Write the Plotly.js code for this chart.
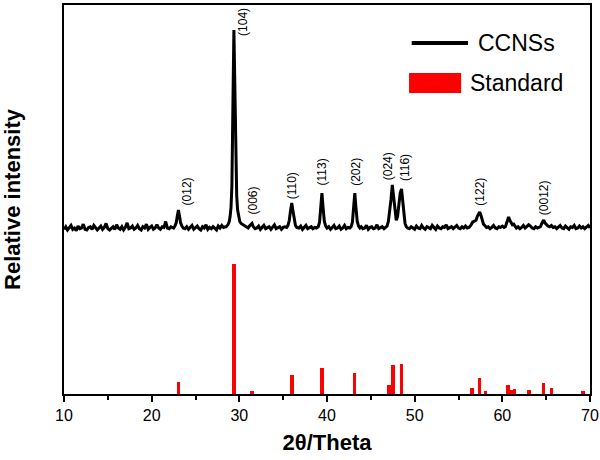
<!DOCTYPE html>
<html>
<head>
<meta charset="utf-8">
<script src="https://cdn.plot.ly/plotly-3.0.1.min.js"></script>
<style>
html,body{margin:0;padding:0;background:#fff;}
#chart{width:600px;height:460px;}
</style>
</head>
<body>
<div id="chart"></div>
<script>
// Measured XRD pattern (2θ in degrees, intensity in arbitrary units)
const xrdPoints = [
[10.0,127],[10.2,129],[10.4,126.5],[10.6,128.5],[10.8,130],[11.0,127],[11.2,128],[11.4,126],[11.6,129.5],[11.8,127.5],
[12.0,128],[12.2,131],[12.4,127],[12.6,126.5],[12.8,128.5],[13.0,129],[13.2,127],[13.4,130],[13.6,128],[13.8,126.5],
[14.0,128],[14.2,129.5],[14.4,127],[14.6,128.5],[14.8,131.5],[15.0,127.5],[15.2,126.5],[15.4,128],[15.6,129],[15.8,127],
[16.0,130.5],[16.2,128],[16.4,127],[16.6,129],[16.8,126.5],[17.0,128.5],[17.2,132],[17.4,127.5],[17.6,128],[17.8,129.5],
[18.0,127],[18.2,128],[18.4,130],[18.6,127.5],[18.8,126.5],[19.0,129],[19.2,128],[19.4,131],[19.6,127],[19.8,128.5],
[20.0,129.5],[20.2,127],[20.4,128],[20.6,130.5],[20.8,128],[21.0,127],[21.2,129],[21.4,128.5],[21.6,133],[21.8,128],
[22.0,127.5],[22.2,129],[22.4,128],
[22.5,128],[22.65,129.5],[22.8,132],[22.92,137],[23.05,141.9],[23.17,137.5],[23.3,132],[23.45,129.5],[23.6,128],
[23.8,127.5],[24.0,129],[24.2,127],[24.4,128.5],[24.6,130],[24.8,127],[25.0,128],[25.2,129.5],[25.4,127.5],[25.6,126.5],
[25.8,129],[26.0,128],[26.2,130.5],[26.4,127],[26.6,128.5],[26.8,127.5],[27.0,129],[27.2,128],[27.4,126.5],[27.6,129.5],
[27.8,128],[28.0,130],[28.2,128.5],[28.4,129],
[28.5,129],[28.7,130.5],[28.85,133],[28.95,137],[29.05,144],[29.15,160],[29.23,190],[29.3,240],[29.38,280.7],[29.45,250],
[29.52,205],[29.6,172],[29.7,153],[29.8,142],[29.92,136],[30.05,133],[30.2,131.5],[30.4,130.5],[30.6,129.5],
[30.8,129],[31.0,128],[31.15,129.5],[31.3,131],[31.45,131.5],[31.6,129],[31.8,127.5],
[32.0,128],[32.2,129.5],[32.4,127],[32.6,128.5],[32.8,130],[33.0,127.5],[33.2,128],[33.4,129],[33.6,127],[33.8,128.5],
[34.0,130.5],[34.2,127.5],[34.4,128],[34.6,129],[34.8,127],[35.0,128.5],[35.2,129],
[35.4,128.5],[35.55,130],[35.7,134],[35.85,142],[35.98,147.3],[36.1,142],[36.25,134],[36.4,130],[36.55,128.5],
[36.8,128],[37.0,129.5],[37.2,127],[37.4,128.5],[37.6,130],[37.8,127.5],[38.0,128],[38.2,129],[38.4,127.5],[38.6,128.5],[38.8,128],
[39.0,129],[39.15,132.5],[39.28,142],[39.42,155],[39.55,144],[39.7,133],[39.85,129.5],[40.0,128],
[40.2,129],[40.4,127],[40.6,128.5],[40.8,130],[41.0,127.5],[41.2,128],[41.4,129.5],[41.6,127],[41.8,128],[42.0,130],
[42.2,127.5],[42.4,128.5],[42.6,128],
[42.75,129],[42.9,132.5],[43.03,142],[43.17,155],[43.3,144],[43.45,133],[43.6,129.5],[43.75,128],
[43.9,129],[44.1,127.5],[44.3,128],[44.5,130],[44.7,127],[44.9,128.5],[45.1,129],[45.3,127.5],[45.5,128],[45.7,130.5],
[45.9,127.5],[46.1,128.5],[46.3,129],[46.5,127.5],[46.7,128.5],
[46.85,129.5],[47.0,133],[47.15,140],[47.3,150],[47.45,161.2],[47.6,152],[47.75,140],[47.9,134],[48.05,137],[48.2,146],
[48.35,155],[48.5,158.1],[48.62,150],[48.75,138],[48.9,131.5],[49.05,129],[49.2,128],
[49.4,127.5],[49.6,129],[49.8,128],[50.0,127],[50.2,129.5],[50.4,128],[50.6,127.5],[50.8,130],[51.0,128],[51.2,127],
[51.4,129],[51.6,128.5],[51.8,127.5],[52.0,130],[52.2,128],[52.4,127],[52.6,129.5],[52.8,128],[53.0,127.5],[53.2,129],
[53.4,128.5],[53.6,130.5],[53.8,127.5],[54.0,128],[54.2,129],[54.4,127.5],[54.6,128.5],[54.8,130],[55.0,128],[55.2,127.5],
[55.4,129],[55.6,128],[55.8,129.5],[56.0,128],
[56.2,128.5],[56.4,130],[56.6,132.5],[56.8,133],[57.0,134],[57.15,137],[57.3,139.5],[57.42,140.4],[57.55,138],[57.7,134],
[57.85,131],[58.0,130],[58.2,128.5],
[58.4,129],[58.6,127.5],[58.8,128.5],[59.0,130],[59.2,128],[59.4,127.5],[59.6,129],[59.8,128.5],[60.0,129.5],[60.2,128.5],
[60.35,129],[60.5,132],[60.62,135],[60.72,136.5],[60.85,134],[61.0,131.5],[61.15,130.5],[61.3,131],[61.45,129.5],[61.6,128],
[61.8,129],[62.0,127.5],[62.2,128.5],[62.4,130],[62.6,128],[62.8,129],[63.0,130.5],[63.2,129.5],[63.4,128],[63.6,127.5],
[63.8,129],[64.0,128],[64.2,128.5],
[64.35,129],[64.5,131.5],[64.62,134],[64.72,134.2],[64.85,132],[65.0,130.5],[65.2,129.5],[65.4,129],[65.6,130],[65.8,128.5],
[66.0,129],[66.2,127.5],[66.4,128.5],[66.6,130],[66.8,128],[67.0,127.5],[67.2,129.5],[67.4,128],[67.6,127],[67.8,129],
[68.0,128.5],[68.2,130],[68.4,127.5],[68.6,128],[68.8,129.5],[69.0,128],[69.2,129],[69.4,127.5],[69.6,128.5],[69.8,130],[70.0,128]
];

// Standard reference pattern (2θ, relative intensity %)
const standardAngle = [23.05, 29.40, 31.42, 35.97, 39.40, 43.15, 47.10, 47.50, 48.50, 56.57, 57.40, 58.08, 60.68, 61.02, 61.38, 63.05, 64.68, 65.62, 69.20];
const standardIntensity = [9, 100, 2, 15, 20, 16, 7, 22, 23, 5, 12, 2, 7, 3, 4, 3, 8.5, 5, 2];

// Miller index labels, with the peak they annotate
const hklLabels = ["(012)", "(104)", "(006)", "(110)", "(113)", "(202)", "(024)", "(116)", "(122)", "(0012)"];
const hklAngle = [23.05, 29.38, 31.45, 35.98, 39.42, 43.17, 47.45, 48.50, 57.42, 64.72];
const hklPeak = [141.9, 280.7, 131.5, 147.3, 155.0, 155.0, 161.2, 158.1, 140.4, 134.2];

const seriesNames = ["CCNSs", "Standard"];
const xTitle = "2θ/Theta";
const yTitle = "Relative intensity";

// label placement offsets in pixels (style, not data)
const labelShiftX = [9, 9, 1, 0, 0, 1, -4, 3, 0, 1];
const labelShiftY = [3, -8, 7, 2, 6, 5, 3, 6, 4, 3];

const FONT = "Arial, 'Liberation Sans', sans-serif";

const xrdAngle = xrdPoints.map(p => p[0]);
const xrdIntensity = xrdPoints.map(p => p[1]);

const traces = [
  {
    type: "bar",
    x: standardAngle,
    y: standardIntensity,
    width: 0.42,
    marker: {color: "#ff0000", line: {width: 0}},
    name: seriesNames[1],
    showlegend: false,
    hoverinfo: "skip"
  },
  {
    type: "scatter",
    mode: "lines",
    x: xrdAngle,
    y: xrdIntensity,
    line: {color: "#000000", width: 3},
    name: seriesNames[0],
    showlegend: false,
    hoverinfo: "skip"
  }
];

const annotations = hklLabels.map((t, i) => ({
  x: hklAngle[i], y: hklPeak[i], xref: "x", yref: "y",
  text: t, textangle: -90, showarrow: false,
  xanchor: "center", yanchor: "bottom",
  xshift: labelShiftX[i], yshift: labelShiftY[i],
  font: {family: FONT, size: 12, color: "#000"}
}));

annotations.push({
  x: 0.783, y: 0.902, xref: "paper", yref: "paper", text: seriesNames[0],
  showarrow: false, xanchor: "left", yanchor: "middle",
  font: {family: FONT, size: 23, color: "#000"}
});
annotations.push({
  x: 0.768, y: 0.800, xref: "paper", yref: "paper", text: seriesNames[1],
  showarrow: false, xanchor: "left", yanchor: "middle",
  font: {family: FONT, size: 23, color: "#000"}
});

const shapes = [
  {type: "line", xref: "paper", yref: "paper", x0: 0.661, x1: 0.768, y0: 0.902, y1: 0.902,
   line: {color: "#000", width: 4}},
  {type: "rect", xref: "paper", yref: "paper", x0: 0.656, x1: 0.755, y0: 0.774, y1: 0.825,
   fillcolor: "#ff0000", line: {width: 0}}
];

const layout = {
  width: 600, height: 460,
  margin: {l: 64, r: 10, t: 5, b: 66},
  paper_bgcolor: "#fff", plot_bgcolor: "#fff",
  showlegend: false,
  bargap: 0,
  xaxis: {
    range: [10, 70], dtick: 10, tick0: 10,
    showgrid: false, zeroline: false,
    showline: true, mirror: true, linewidth: 2, linecolor: "#000",
    ticks: "outside", ticklen: 6, tickwidth: 2, tickcolor: "#000",
    minor: {dtick: 5, ticks: "outside", ticklen: 4, tickwidth: 2, tickcolor: "#000", showgrid: false},
    tickfont: {family: FONT, size: 16, color: "#000"},
    title: {text: xTitle, font: {family: FONT, size: 22, color: "#000", weight: "bold"}, standoff: 11}
  },
  yaxis: {
    range: [0, 300],
    showgrid: false, zeroline: false,
    showline: true, mirror: true, linewidth: 2, linecolor: "#000",
    ticks: "", showticklabels: false,
    title: {text: yTitle, font: {family: FONT, size: 22, color: "#000", weight: "bold"}, standoff: 36}
  },
  annotations: annotations,
  shapes: shapes
};

Plotly.newPlot("chart", traces, layout, {staticPlot: true, displayModeBar: false});
</script>
</body>
</html>
